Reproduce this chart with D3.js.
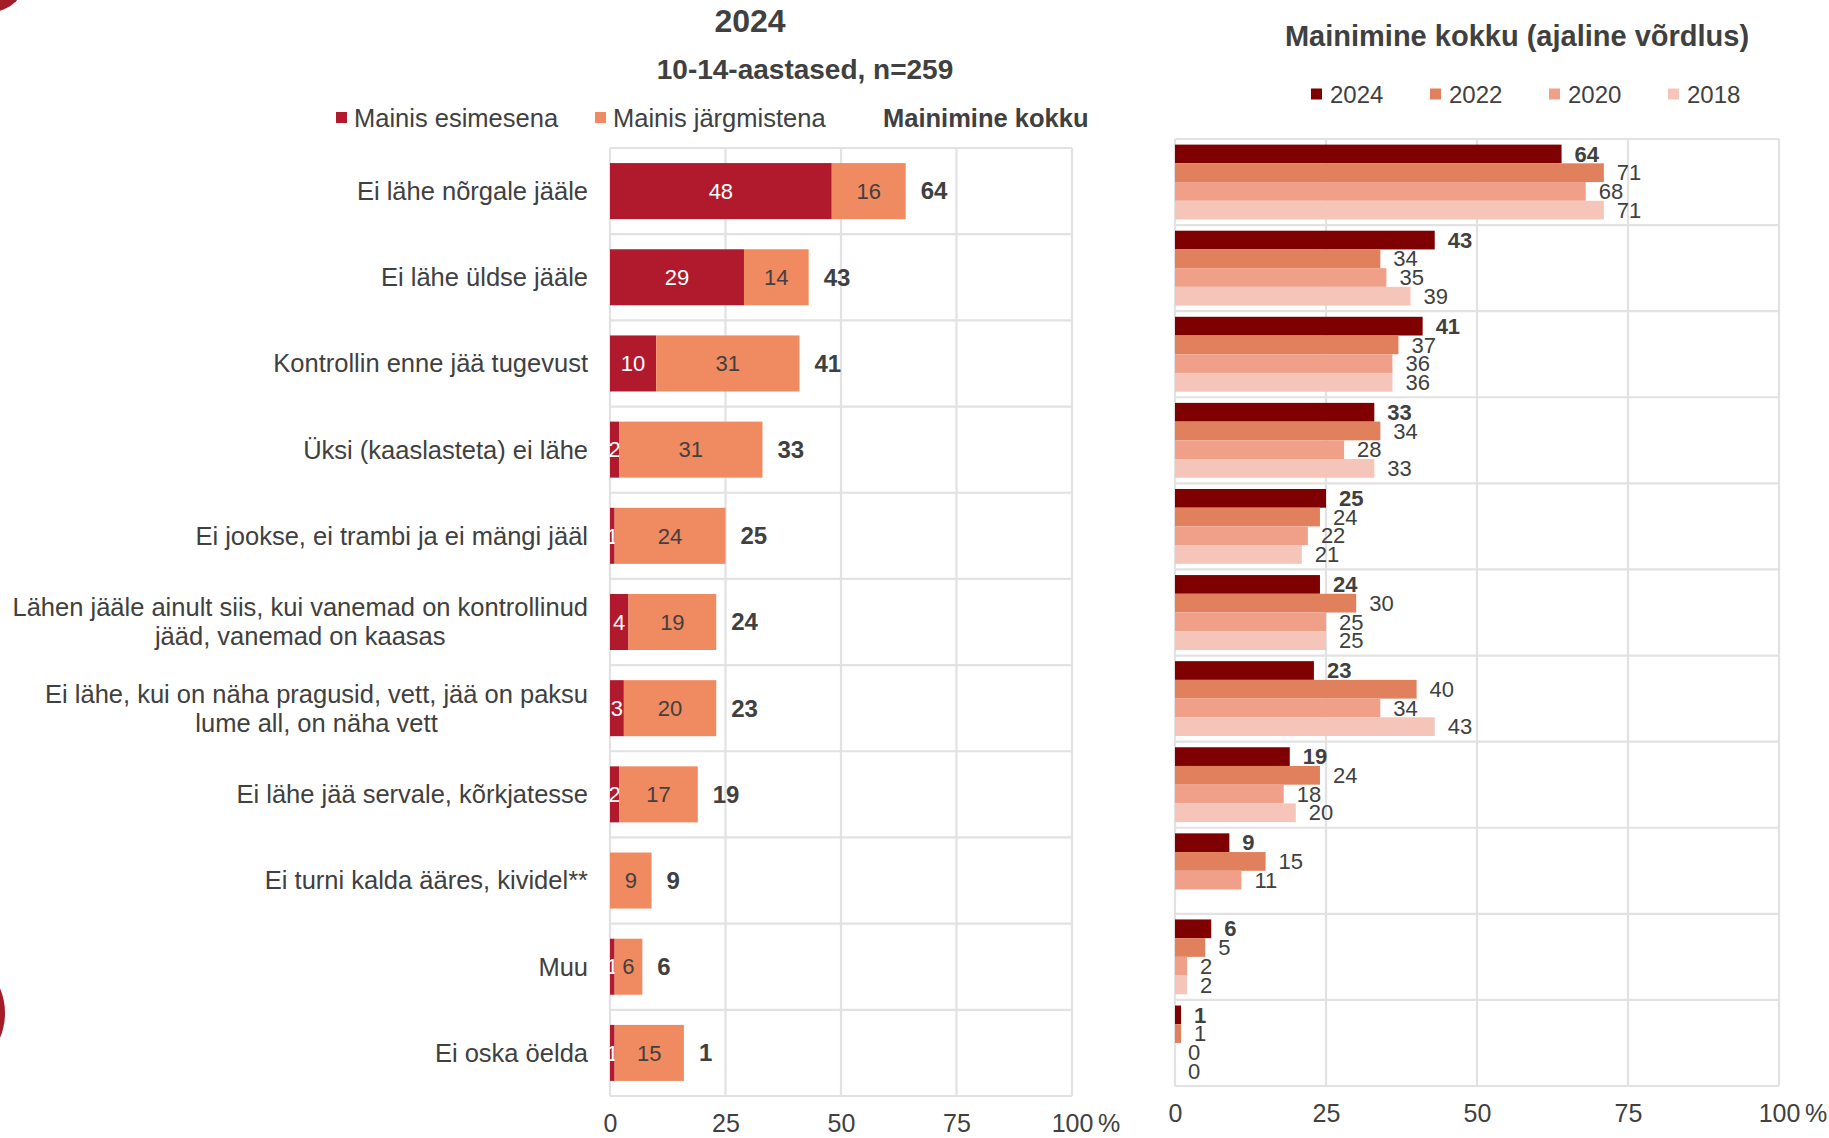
<!DOCTYPE html>
<html lang="et">
<head>
<meta charset="utf-8">
<title>Jääohutus – 10-14-aastased</title>
<script src="https://cdn.jsdelivr.net/npm/d3@7/dist/d3.min.js"></script>
<style>
  html, body { margin: 0; padding: 0; background: #fff; }
  svg { display: block; font-family: "Liberation Sans", Arial, sans-serif; }
</style>
</head>
<body>
<svg id="chart" width="1829" height="1138"></svg>
<script>
// Answer categories (multi-line labels split into lines)
const categories = [
  ["Ei lähe nõrgale jääle"],
  ["Ei lähe üldse jääle"],
  ["Kontrollin enne jää tugevust"],
  ["Üksi (kaaslasteta) ei lähe"],
  ["Ei jookse, ei trambi  ja ei mängi jääl"],
  ["Lähen jääle ainult siis, kui vanemad on kontrollinud", "jääd, vanemad on kaasas"],
  ["Ei lähe, kui on näha pragusid, vett, jää on paksu", "lume all, on näha vett"],
  ["Ei lähe jää servale, kõrkjatesse"],
  ["Ei turni kalda ääres, kividel**"],
  ["Muu"],
  ["Ei oska öelda"]
];

// 2024 breakdown, %
const firstMention = [48, 29, 10, 2, 1, 4, 3, 2, 0, 1, 1];
const laterMention = [16, 14, 31, 31, 24, 19, 20, 17, 9, 6, 15];
const totalMention = [64, 43, 41, 33, 25, 24, 23, 19, 9, 6, 1];

// Total mentions by survey year, %
const years = ["2024", "2022", "2020", "2018"];
const total2024 = [64, 43, 41, 33, 25, 24, 23, 19, 9, 6, 1];
const total2022 = [71, 34, 37, 34, 24, 30, 40, 24, 15, 5, 1];
const total2020 = [68, 35, 36, 28, 22, 25, 34, 18, 11, 2, 0];
const total2018 = [71, 39, 36, 33, 21, 25, 43, 20, null, 2, 0];

const xTicks = [0, 25, 50, 75, 100];

const TEXT = "#404040";
const GRID = "#e2e2e2";
const FONT = '"Liberation Sans", Arial, sans-serif';

const svg = d3.select("#chart");

// decorative page ornaments
svg.append("circle").attr("cx", -10).attr("cy", -25).attr("r", 37).attr("fill", "#a31c27");
svg.append("circle").attr("cx", -60).attr("cy", 1013).attr("r", 65).attr("fill", "#a31c27");

const idx = d3.range(categories.length);

// ---------------- left: stacked 2024 breakdown ----------------
const L = { left: 610, right: 1072, top: 148, bottom: 1096 };
const xL = d3.scaleLinear().domain([0, 100]).range([L.left, L.right]);
const rowsL = d3.scaleBand().domain(idx).range([L.top, L.bottom]);
const barPadL = 0.175;

const gL = svg.append("g");

function drawFrame(g, x, rows, box) {
  const grid = g.append("g").attr("stroke", GRID).attr("stroke-width", 2.2).attr("fill", "none");
  grid.selectAll("line.v").data(xTicks).join("line")
    .attr("x1", d => x(d)).attr("x2", d => x(d))
    .attr("y1", box.top).attr("y2", box.bottom);
  const bounds = idx.map(i => rows(i)).concat([box.bottom]);
  grid.selectAll("line.h").data(bounds).join("line")
    .attr("x1", box.left).attr("x2", box.right)
    .attr("y1", d => d).attr("y2", d => d);
}

function drawAxis(g, x, y) {
  const ax = g.append("g").attr("transform", `translate(0,${y})`)
    .call(d3.axisBottom(x).tickValues(xTicks).tickSize(0).tickFormat(d3.format("d")));
  ax.select(".domain").remove();
  ax.selectAll("text")
    .attr("y", 0).attr("dy", "0.35em")
    .attr("fill", TEXT).style("font-size", "25px").style("font-family", FONT);
  g.append("text").attr("x", x(100) + 26).attr("y", y).attr("dy", "0.35em")
    .attr("fill", TEXT).style("font-size", "25px").text("%");
}

drawFrame(gL, xL, rowsL, L);

const stackData = idx.map(i => ({ i, first: firstMention[i], later: laterMention[i], total: totalMention[i] }));
const stack = d3.stack().keys(["first", "later"])(stackData);
const colorsL = { first: "#b01a2c", later: "#f08a60" };
const labelColorL = { first: "#ffffff", later: TEXT };

stack.forEach(layer => {
  const key = layer.key;
  const g = gL.append("g");
  g.selectAll("rect").data(layer).join("rect")
    .attr("x", d => xL(d[0]))
    .attr("width", d => xL(d[1]) - xL(d[0]))
    .attr("y", d => rowsL(d.data.i) + rowsL.bandwidth() * barPadL)
    .attr("height", rowsL.bandwidth() * (1 - 2 * barPadL))
    .attr("fill", colorsL[key]);
  g.selectAll("text").data(layer.filter(d => d.data[key] > 0)).join("text")
    .attr("x", d => (xL(d[0]) + xL(d[1])) / 2)
    .attr("y", d => rowsL(d.data.i) + rowsL.bandwidth() / 2)
    .attr("dy", "0.35em").attr("text-anchor", "middle")
    .attr("fill", labelColorL[key]).style("font-size", "22px")
    .text(d => d.data[key]);
});

// totals after each stack
gL.append("g").selectAll("text").data(stackData).join("text")
  .attr("x", d => xL(d.first + d.later) + 15)
  .attr("y", d => rowsL(d.i) + rowsL.bandwidth() / 2)
  .attr("dy", "0.35em").attr("fill", TEXT)
  .style("font-size", "24px").style("font-weight", "bold")
  .text(d => d.total);

// category labels: right-aligned block, lines centred within it
const catG = gL.append("g");
categories.forEach((lines, i) => {
  const t = catG.append("text").attr("fill", TEXT).style("font-size", "25.5px").attr("text-anchor", "middle");
  const lh = 29;
  const cy = rowsL(i) + rowsL.bandwidth() / 2;
  const spans = lines.map((ln, k) => t.append("tspan")
    .attr("y", cy + (k - (lines.length - 1) / 2) * lh).attr("dy", "0.35em").text(ln));
  const w = d3.max(spans, s => s.node().getComputedTextLength());
  spans.forEach(s => s.attr("x", 588 - w / 2));
});

drawAxis(gL, xL, 1123);

// titles and legend for left panel
svg.append("text").attr("x", 750).attr("y", 21).attr("dy", "0.35em").attr("text-anchor", "middle")
  .attr("fill", TEXT).style("font-size", "32px").style("font-weight", "bold").text("2024");
svg.append("text").attr("x", 805).attr("y", 69).attr("dy", "0.35em").attr("text-anchor", "middle")
  .attr("fill", TEXT).style("font-size", "28px").style("font-weight", "bold").text("10-14-aastased, n=259");

const legL = [
  { label: "Mainis esimesena", color: colorsL.first, x: 336 },
  { label: "Mainis järgmistena", color: colorsL.later, x: 595 }
];
const legLY = 118;
legL.forEach(d => {
  svg.append("rect").attr("x", d.x).attr("y", legLY - 6).attr("width", 11).attr("height", 11).attr("fill", d.color);
  svg.append("text").attr("x", d.x + 18).attr("y", legLY).attr("dy", "0.35em")
    .attr("fill", TEXT).style("font-size", "25.5px").text(d.label);
});
svg.append("text").attr("x", 883).attr("y", legLY).attr("dy", "0.35em")
  .attr("fill", TEXT).style("font-size", "25.5px").style("font-weight", "bold").text("Mainimine kokku");

// ---------------- right: totals by year ----------------
const R = { left: 1175, right: 1779, top: 139, bottom: 1086 };
const xR = d3.scaleLinear().domain([0, 100]).range([R.left, R.right]);
const rowsR = d3.scaleBand().domain(idx).range([R.top, R.bottom]);
const yearBand = d3.scaleBand().domain(years).range([0, rowsR.bandwidth()]).paddingInner(0).paddingOuter(0.3);
const colorsR = d3.scaleOrdinal().domain(years).range(["#7f0000", "#e0805c", "#f0a088", "#f5c5b9"]);

const gR = svg.append("g");
drawFrame(gR, xR, rowsR, R);

const seriesR = { "2024": total2024, "2022": total2022, "2020": total2020, "2018": total2018 };
const cells = [];
idx.forEach(i => years.forEach(yr => {
  const v = seriesR[yr][i];
  if (v !== null) cells.push({ i, yr, v });
}));

gR.append("g").selectAll("rect").data(cells).join("rect")
  .attr("x", xR(0))
  .attr("width", d => xR(d.v) - xR(0))
  .attr("y", d => rowsR(d.i) + yearBand(d.yr))
  .attr("height", yearBand.bandwidth())
  .attr("fill", d => colorsR(d.yr));

gR.append("g").selectAll("text").data(cells).join("text")
  .attr("x", d => xR(d.v) + 13)
  .attr("y", d => rowsR(d.i) + yearBand(d.yr) + yearBand.bandwidth() / 2)
  .attr("dy", "0.35em").attr("fill", TEXT)
  .style("font-size", "22px")
  .style("font-weight", d => d.yr === "2024" ? "bold" : "normal")
  .text(d => d.v);

drawAxis(gR, xR, 1113);

svg.append("text").attr("x", 1517).attr("y", 36).attr("dy", "0.35em").attr("text-anchor", "middle")
  .attr("fill", TEXT).style("font-size", "29px").style("font-weight", "bold")
  .text("Mainimine kokku (ajaline võrdlus)");

const legRX = d3.scalePoint().domain(years).range([1311, 1668]);
const legRY = 94.5;
years.forEach(yr => {
  svg.append("rect").attr("x", legRX(yr)).attr("y", legRY - 6).attr("width", 11).attr("height", 11).attr("fill", colorsR(yr));
  svg.append("text").attr("x", legRX(yr) + 19).attr("y", legRY).attr("dy", "0.35em")
    .attr("fill", TEXT).style("font-size", "24px").text(yr);
});
</script>
</body>
</html>
